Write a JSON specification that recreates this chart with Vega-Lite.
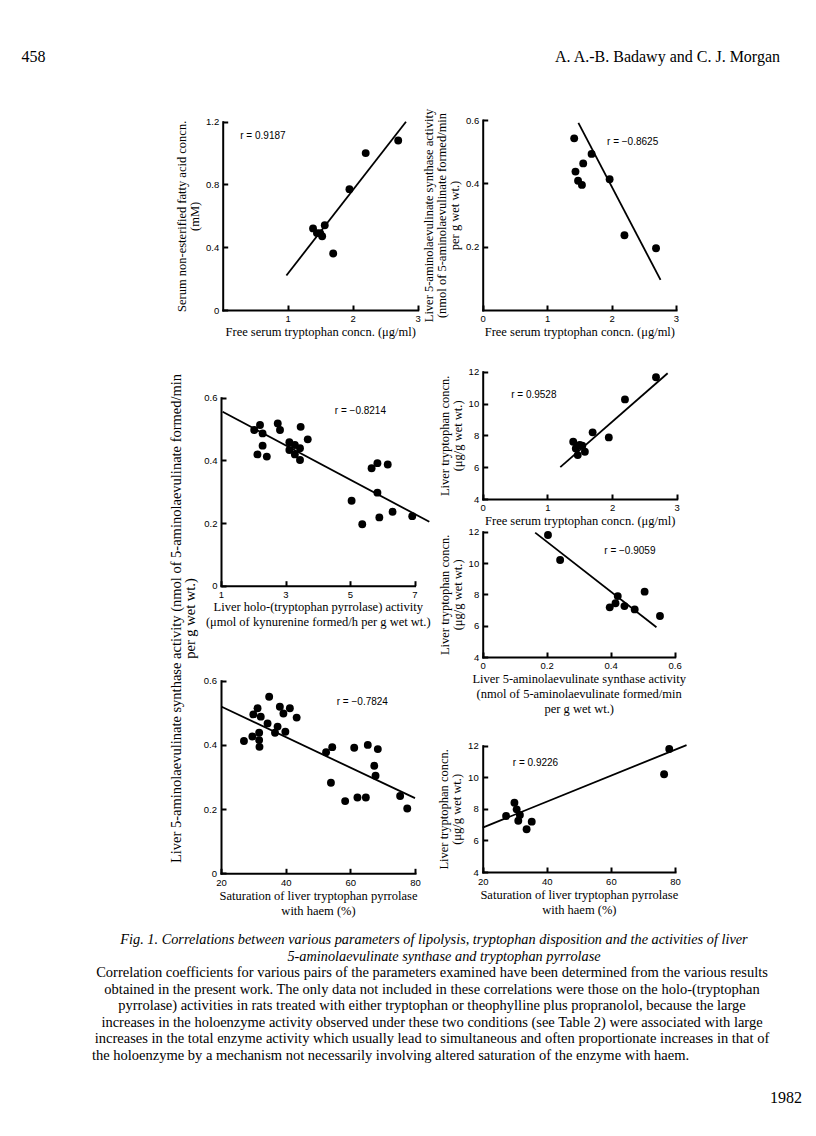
{
  "$schema": "https://vega.github.io/schema/vega-lite/v6.json",
  "width": 816,
  "height": 1136,
  "autosize": {"type": "none"},
  "padding": 0,
  "background": "white",
  "datasets": {
    "p1pts": [{"x":2.70,"y":1.08},{"x":2.20,"y":1.00},{"x":1.95,"y":0.77},{"x":1.57,"y":0.54},{"x":1.39,"y":0.52},{"x":1.45,"y":0.49},{"x":1.50,"y":0.49},{"x":1.53,"y":0.47},{"x":1.70,"y":0.36}],
    "p1fit": [{"x":0.98,"y":0.22},{"x":2.82,"y":1.20}],
    "p1r": [{"x":0.27,"y":1.11,"label":"r = 0.9187"}],
    "p2pts": [{"x":1.42,"y":0.542},{"x":1.44,"y":0.437},{"x":1.56,"y":0.463},{"x":1.69,"y":0.493},{"x":1.48,"y":0.408},{"x":1.54,"y":0.395},{"x":1.97,"y":0.413},{"x":2.20,"y":0.236},{"x":2.69,"y":0.195}],
    "p2fit": [{"x":1.485,"y":0.591},{"x":2.76,"y":0.095}],
    "p2r": [{"x":1.93,"y":0.532,"label":"r = −0.8625"}],
    "p3pts": [{"x":2.03,"y":0.497},{"x":2.21,"y":0.513},{"x":2.29,"y":0.486},{"x":2.29,"y":0.447},{"x":2.13,"y":0.419},{"x":2.42,"y":0.412},{"x":2.76,"y":0.518},{"x":2.83,"y":0.497},{"x":3.12,"y":0.458},{"x":3.12,"y":0.433},{"x":3.29,"y":0.449},{"x":3.29,"y":0.419},{"x":3.45,"y":0.439},{"x":3.47,"y":0.507},{"x":3.45,"y":0.401},{"x":3.69,"y":0.467},{"x":5.05,"y":0.271},{"x":5.38,"y":0.196},{"x":5.67,"y":0.375},{"x":5.85,"y":0.391},{"x":6.17,"y":0.387},{"x":5.85,"y":0.297},{"x":5.91,"y":0.218},{"x":6.32,"y":0.236},{"x":6.93,"y":0.222}],
    "p3fit": [{"x":1.05,"y":0.555},{"x":7.46,"y":0.204}],
    "p3r": [{"x":4.53,"y":0.556,"label":"r = −0.8214"}],
    "p4pts": [{"x":2.68,"y":11.65},{"x":2.20,"y":10.26},{"x":1.70,"y":8.19},{"x":1.95,"y":7.87},{"x":1.40,"y":7.60},{"x":1.44,"y":7.18},{"x":1.50,"y":7.39},{"x":1.47,"y":6.76},{"x":1.58,"y":6.97},{"x":1.54,"y":7.35}],
    "p4fit": [{"x":1.20,"y":6.0},{"x":2.86,"y":11.9}],
    "p4r": [{"x":0.44,"y":10.53,"label":"r = 0.9528"}],
    "p5pts": [{"x":0.204,"y":11.79},{"x":0.242,"y":10.19},{"x":0.397,"y":7.17},{"x":0.415,"y":7.43},{"x":0.422,"y":7.89},{"x":0.443,"y":7.25},{"x":0.475,"y":7.04},{"x":0.506,"y":8.17},{"x":0.554,"y":6.62}],
    "p5fit": [{"x":0.164,"y":11.94},{"x":0.543,"y":5.9}],
    "p5r": [{"x":0.38,"y":10.77,"label":"r = −0.9059"}],
    "p6pts": [{"x":27.1,"y":0.412},{"x":29.7,"y":0.426},{"x":30.0,"y":0.495},{"x":31.3,"y":0.514},{"x":32.3,"y":0.488},{"x":31.8,"y":0.438},{"x":31.8,"y":0.415},{"x":31.9,"y":0.394},{"x":34.9,"y":0.550},{"x":34.4,"y":0.467},{"x":36.7,"y":0.438},{"x":37.5,"y":0.457},{"x":38.2,"y":0.519},{"x":39.3,"y":0.498},{"x":39.9,"y":0.441},{"x":41.3,"y":0.514},{"x":43.4,"y":0.485},{"x":52.5,"y":0.377},{"x":54.4,"y":0.393},{"x":54.0,"y":0.282},{"x":58.4,"y":0.225},{"x":61.2,"y":0.391},{"x":62.2,"y":0.236},{"x":64.8,"y":0.236},{"x":65.4,"y":0.400},{"x":68.5,"y":0.387},{"x":67.4,"y":0.335},{"x":67.8,"y":0.304},{"x":75.4,"y":0.241},{"x":77.6,"y":0.202}],
    "p6fit": [{"x":20.2,"y":0.519},{"x":80,"y":0.234}],
    "p6r": [{"x":55.8,"y":0.533,"label":"r = −0.7824"}],
    "p7pts": [{"x":78.2,"y":11.79},{"x":76.6,"y":10.19},{"x":27.3,"y":7.55},{"x":29.9,"y":8.39},{"x":30.6,"y":7.97},{"x":31.6,"y":7.61},{"x":31.1,"y":7.25},{"x":33.7,"y":6.71},{"x":35.3,"y":7.19}],
    "p7fit": [{"x":20,"y":6.81},{"x":83.6,"y":12.04}],
    "p7r": [{"x":29.4,"y":10.88,"label":"r = 0.9226"}],
    "header": [{"k":"page","t":"458"},{"k":"authors","t":"A. A.-B. Badawy and C. J. Morgan"}],
    "capHead": [{"line":1,"t":"Fig. 1. Correlations between various parameters of lipolysis, tryptophan disposition and the activities of liver"},{"line":2,"t":"5-aminolaevulinate synthase and tryptophan pyrrolase"}],
    "capBody": [{"line":1,"t":"Correlation coefficients for various pairs of the parameters examined have been determined from the various results"},{"line":2,"t":"obtained in the present work. The only data not included in these correlations were those on the holo-(tryptophan"},{"line":3,"t":"pyrrolase) activities in rats treated with either tryptophan or theophylline plus propranolol, because the large"},{"line":4,"t":"increases in the holoenzyme activity observed under these two conditions (see Table 2) were associated with large"},{"line":5,"t":"increases in the total enzyme activity which usually lead to simultaneous and often proportionate increases in that of"}],
    "capLast": [{"line":6,"t":"the holoenzyme by a mechanism not necessarily involving altered saturation of the enzyme with haem."}],
    "footer": [{"line":1,"t":"1982"}]
  },
  "layer": [
    {
      "encoding": {
        "x": {"field": "x", "type": "quantitative", "scale": {"domain": [0, 3], "range": [222.7, 417.7], "nice": false, "zero": false}, "axis": {"orient": "bottom", "offset": -826, "values": [1, 2, 3], "format": "d", "title": "Free serum tryptophan concn. (μg/ml)"}},
        "y": {"field": "y", "type": "quantitative", "scale": {"domain": [0, 1.2], "range": [310, 121.7], "nice": false, "zero": false}, "axis": {"orient": "left", "offset": -222.7, "values": [0, 0.4, 0.8, 1.2], "format": ".1~f", "title": ["Serum non-esterified fatty acid concn.", "(mM)"]}}
      },
      "layer": [
        {"data": {"name": "p1pts"}, "mark": {"type": "circle", "size": 62, "opacity": 1, "color": "black"}},
        {"data": {"name": "p1fit"}, "mark": {"type": "line", "color": "black", "strokeWidth": 1.8}},
        {"data": {"name": "p1r"}, "mark": {"type": "text", "align": "left", "baseline": "middle", "font": "Liberation Sans", "fontSize": 10}, "encoding": {"text": {"field": "label"}}}
      ]
    },
    {
      "encoding": {
        "x": {"field": "x", "type": "quantitative", "scale": {"domain": [0, 3], "range": [482.7, 676], "nice": false, "zero": false}, "axis": {"orient": "bottom", "offset": -826, "values": [0, 1, 2, 3], "format": "d", "title": "Free serum tryptophan concn. (μg/ml)"}},
        "y": {"field": "y", "type": "quantitative", "scale": {"domain": [0, 0.6], "range": [310, 120], "nice": false, "zero": false}, "axis": {"orient": "left", "offset": -482.7, "values": [0.2, 0.4, 0.6], "format": ".1~f", "title": ["Liver 5-aminolaevulinate synthase activity", "(nmol of 5-aminolaevulinate formed/min", "per g wet wt.)"]}}
      },
      "layer": [
        {"data": {"name": "p2pts"}, "mark": {"type": "circle", "size": 62, "opacity": 1, "color": "black"}},
        {"data": {"name": "p2fit"}, "mark": {"type": "line", "color": "black", "strokeWidth": 1.8}},
        {"data": {"name": "p2r"}, "mark": {"type": "text", "align": "left", "baseline": "middle", "font": "Liberation Sans", "fontSize": 10}, "encoding": {"text": {"field": "label"}}}
      ]
    },
    {
      "encoding": {
        "x": {"field": "x", "type": "quantitative", "scale": {"domain": [1, 7], "range": [221, 414.5], "nice": false, "zero": false}, "axis": {"orient": "bottom", "offset": -550.3, "values": [1, 3, 5, 7], "format": "d", "title": ["Liver holo-(tryptophan pyrrolase) activity", "(μmol of kynurenine formed/h per g wet wt.)"]}},
        "y": {"field": "y", "type": "quantitative", "scale": {"domain": [0, 0.6], "range": [585.7, 397.7], "nice": false, "zero": false}, "axis": {"orient": "left", "offset": -221, "values": [0, 0.2, 0.4, 0.6], "format": ".1~f", "titleY": 618, "titleFontSize": 14.5, "titleLineHeight": 14, "titlePadding": 6, "title": ["Liver 5-aminolaevulinate synthase activity (nmol of 5-aminolaevulinate formed/min", "per g wet wt.)"]}}
      },
      "layer": [
        {"data": {"name": "p3pts"}, "mark": {"type": "circle", "size": 62, "opacity": 1, "color": "black"}},
        {"data": {"name": "p3fit"}, "mark": {"type": "line", "color": "black", "strokeWidth": 1.8}},
        {"data": {"name": "p3r"}, "mark": {"type": "text", "align": "left", "baseline": "middle", "font": "Liberation Sans", "fontSize": 10}, "encoding": {"text": {"field": "label"}}}
      ]
    },
    {
      "encoding": {
        "x": {"field": "x", "type": "quantitative", "scale": {"domain": [0, 3], "range": [482.7, 676.7], "nice": false, "zero": false}, "axis": {"orient": "bottom", "offset": -637, "values": [0, 1, 2, 3], "format": "d", "title": "Free serum tryptophan concn. (μg/ml)"}},
        "y": {"field": "y", "type": "quantitative", "scale": {"domain": [4, 12], "range": [499, 371.7], "nice": false, "zero": false}, "axis": {"orient": "left", "offset": -482.7, "values": [4, 6, 8, 10, 12], "format": "d", "title": ["Liver tryptophan concn.", "(μg/g wet wt.)"]}}
      },
      "layer": [
        {"data": {"name": "p4pts"}, "mark": {"type": "circle", "size": 62, "opacity": 1, "color": "black"}},
        {"data": {"name": "p4fit"}, "mark": {"type": "line", "color": "black", "strokeWidth": 1.8}},
        {"data": {"name": "p4r"}, "mark": {"type": "text", "align": "left", "baseline": "middle", "font": "Liberation Sans", "fontSize": 10}, "encoding": {"text": {"field": "label"}}}
      ]
    },
    {
      "encoding": {
        "x": {"field": "x", "type": "quantitative", "scale": {"domain": [0, 0.6], "range": [482.7, 674.7], "nice": false, "zero": false}, "axis": {"orient": "bottom", "offset": -479, "values": [0, 0.2, 0.4, 0.6], "format": ".1~f", "title": ["Liver 5-aminolaevulinate synthase activity", "(nmol of 5-aminolaevulinate formed/min", "per g wet wt.)"]}},
        "y": {"field": "y", "type": "quantitative", "scale": {"domain": [4, 12], "range": [657, 531.7], "nice": false, "zero": false}, "axis": {"orient": "left", "offset": -482.7, "values": [4, 6, 8, 10, 12], "format": "d", "title": ["Liver tryptophan concn.", "(μg/g wet wt.)"]}}
      },
      "layer": [
        {"data": {"name": "p5pts"}, "mark": {"type": "circle", "size": 62, "opacity": 1, "color": "black"}},
        {"data": {"name": "p5fit"}, "mark": {"type": "line", "color": "black", "strokeWidth": 1.8}},
        {"data": {"name": "p5r"}, "mark": {"type": "text", "align": "left", "baseline": "middle", "font": "Liberation Sans", "fontSize": 10}, "encoding": {"text": {"field": "label"}}}
      ]
    },
    {
      "encoding": {
        "x": {"field": "x", "type": "quantitative", "scale": {"domain": [20, 80], "range": [221, 415], "nice": false, "zero": false}, "axis": {"orient": "bottom", "offset": -262.7, "values": [20, 40, 60, 80], "format": "d", "labelPadding": 9.5, "title": ["Saturation of liver tryptophan pyrrolase", "with haem (%)"]}},
        "y": {"field": "y", "type": "quantitative", "scale": {"domain": [0, 0.6], "range": [873.3, 680.7], "nice": false, "zero": false}, "axis": {"orient": "left", "offset": -221, "values": [0, 0.2, 0.4, 0.6], "format": ".1~f", "labelPadding": 9.5, "title": null}}
      },
      "layer": [
        {"data": {"name": "p6pts"}, "mark": {"type": "circle", "size": 62, "opacity": 1, "color": "black"}},
        {"data": {"name": "p6fit"}, "mark": {"type": "line", "color": "black", "strokeWidth": 1.8}},
        {"data": {"name": "p6r"}, "mark": {"type": "text", "align": "left", "baseline": "middle", "font": "Liberation Sans", "fontSize": 10}, "encoding": {"text": {"field": "label"}}}
      ]
    },
    {
      "encoding": {
        "x": {"field": "x", "type": "quantitative", "scale": {"domain": [20, 80], "range": [482.7, 675], "nice": false, "zero": false}, "axis": {"orient": "bottom", "offset": -264, "values": [20, 40, 60, 80], "format": "d", "labelPadding": 9.5, "title": ["Saturation of liver tryptophan pyrrolase", "with haem (%)"]}},
        "y": {"field": "y", "type": "quantitative", "scale": {"domain": [4, 12], "range": [872, 745.7], "nice": false, "zero": false}, "axis": {"orient": "left", "offset": -482.7, "values": [4, 6, 8, 10, 12], "format": "d", "labelPadding": 9.5, "title": ["Liver tryptophan concn.", "(μg/g wet wt.)"]}}
      },
      "layer": [
        {"data": {"name": "p7pts"}, "mark": {"type": "circle", "size": 62, "opacity": 1, "color": "black"}},
        {"data": {"name": "p7fit"}, "mark": {"type": "line", "color": "black", "strokeWidth": 1.8}},
        {"data": {"name": "p7r"}, "mark": {"type": "text", "align": "left", "baseline": "middle", "font": "Liberation Sans", "fontSize": 10}, "encoding": {"text": {"field": "label"}}}
      ]
    },
    {
      "data": {"name": "header"},
      "mark": {"type": "text", "align": "center", "baseline": "alphabetic", "font": "Liberation Serif", "fontSize": 16},
      "encoding": {
        "x": {"field": "k", "type": "nominal", "scale": {"type": "point", "domain": ["page", "authors"], "range": [33.5, 667.5], "padding": 0}, "axis": null},
        "y": {"field": "k", "type": "nominal", "scale": {"type": "point", "domain": ["page", "authors"], "range": [62, 62], "padding": 0}, "axis": null},
        "text": {"field": "t"}
      }
    },
    {
      "data": {"name": "capHead"},
      "mark": {"type": "text", "align": "center", "baseline": "middle", "font": "Liberation Serif", "fontSize": 14.3, "fontStyle": "italic"},
      "encoding": {
        "x": {"field": "line", "type": "ordinal", "scale": {"type": "point", "range": [434, 444], "padding": 0}, "axis": null},
        "y": {"field": "line", "type": "ordinal", "scale": {"type": "point", "range": [940, 957], "padding": 0}, "axis": null},
        "text": {"field": "t"}
      }
    },
    {
      "data": {"name": "capBody"},
      "mark": {"type": "text", "align": "center", "baseline": "middle", "font": "Liberation Serif", "fontSize": 14.5},
      "encoding": {
        "x": {"field": "line", "type": "ordinal", "scale": {"type": "point", "range": [432, 432], "padding": 0}, "axis": null},
        "y": {"field": "line", "type": "ordinal", "scale": {"type": "point", "range": [973, 1039.4], "padding": 0}, "axis": null},
        "text": {"field": "t"}
      }
    },
    {
      "data": {"name": "capLast"},
      "mark": {"type": "text", "align": "left", "baseline": "middle", "font": "Liberation Serif", "fontSize": 14.5},
      "encoding": {
        "x": {"field": "line", "type": "ordinal", "scale": {"type": "point", "range": [92, 92], "padding": 0}, "axis": null},
        "y": {"field": "line", "type": "ordinal", "scale": {"type": "point", "range": [1056, 1056], "padding": 0}, "axis": null},
        "text": {"field": "t"}
      }
    },
    {
      "data": {"name": "footer"},
      "mark": {"type": "text", "align": "center", "baseline": "middle", "font": "Liberation Serif", "fontSize": 16},
      "encoding": {
        "x": {"field": "line", "type": "ordinal", "scale": {"type": "point", "range": [786, 786], "padding": 0}, "axis": null},
        "y": {"field": "line", "type": "ordinal", "scale": {"type": "point", "range": [1098, 1098], "padding": 0}, "axis": null},
        "text": {"field": "t"}
      }
    }
  ],
  "resolve": {"scale": {"x": "independent", "y": "independent"}, "axis": {"x": "independent", "y": "independent"}},
  "config": {
    "view": {"stroke": null},
    "axis": {"domainColor": "black", "domainWidth": 2, "domainCap": "square", "tickColor": "black", "tickWidth": 2, "tickSize": -5, "labelFont": "Liberation Sans", "labelFontSize": 9.5, "labelColor": "black", "labelFlush": false, "labelOverlap": false, "titleFont": "Liberation Serif", "titleFontSize": 12.5, "titleFontWeight": "normal", "titleColor": "black", "grid": false},
    "axisX": {"titlePadding": 2, "titleLineHeight": 15, "labelPadding": 8.5},
    "axisY": {"titlePadding": 4, "titleLineHeight": 13, "labelPadding": 9},
    "text": {"color": "black"}
  }
}
